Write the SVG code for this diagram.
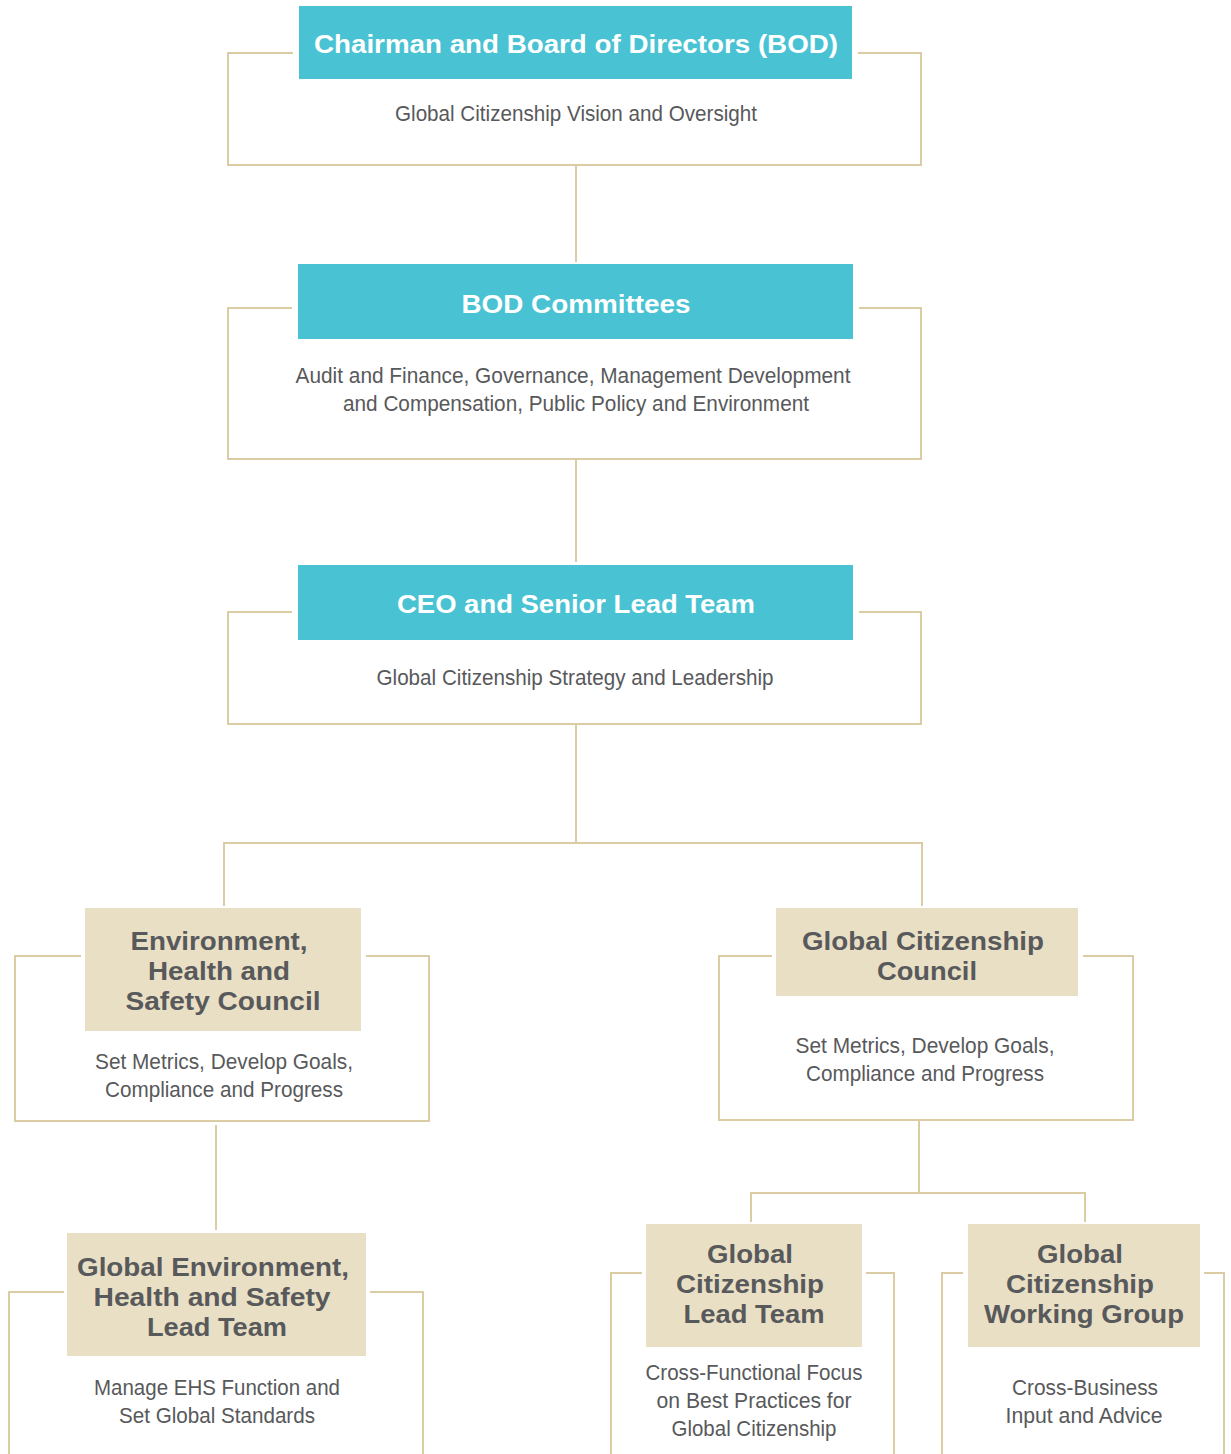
<svg xmlns="http://www.w3.org/2000/svg" width="1231" height="1454" viewBox="0 0 1231 1454">
<style>
.frame{fill:none;stroke:#DCCCA3;stroke-width:2}
.conn{fill:none;stroke:#DCCCA3;stroke-width:2}
.teal{fill:#49C3D3}
.beige{fill:#E9DFC5}
.ht{font-family:"Liberation Sans",Arial,sans-serif;font-weight:bold;font-size:26px;fill:#FFFFFF;text-anchor:middle}
.hb{font-family:"Liberation Sans",Arial,sans-serif;font-weight:bold;font-size:25px;fill:#58595B;text-anchor:middle}
.bd{font-family:"Liberation Sans Narrow","Liberation Sans",Arial,sans-serif;font-size:22px;fill:#58595B;text-anchor:middle}
</style>
<rect width="1231" height="1454" fill="#FFFFFF"/>
<g id="connectors">
<path class="conn" d="M576 165 V262"/>
<path class="conn" d="M576 459 V562"/>
<path class="conn" d="M576 724 V843 M224 906 V843 H922 V906"/>
<path class="conn" d="M216 1125 V1230"/>
<path class="conn" d="M919 1120 V1193 M751 1222 V1193 H1085 V1222"/>
</g>
<g id="node-bod">
<path class="frame" d="M293 53 H228 V165 H921 V53 H858"/>
<rect class="teal" x="299" y="6" width="553" height="73"/>
<text class="ht" x="576" y="53" textLength="524" lengthAdjust="spacingAndGlyphs">Chairman and Board of Directors (BOD)</text>
<text class="bd" x="576" y="121" textLength="362" lengthAdjust="spacingAndGlyphs">Global Citizenship Vision and Oversight</text>
</g>
<g id="node-committees">
<path class="frame" d="M292 308 H228 V459 H921 V308 H859"/>
<rect class="teal" x="298" y="264" width="555" height="75"/>
<text class="ht" x="576" y="313" textLength="229" lengthAdjust="spacingAndGlyphs">BOD Committees</text>
<text class="bd" x="573" y="383" textLength="555" lengthAdjust="spacingAndGlyphs">Audit and Finance, Governance, Management Development</text>
<text class="bd" x="576" y="411" textLength="466" lengthAdjust="spacingAndGlyphs">and Compensation, Public Policy and Environment</text>
</g>
<g id="node-ceo">
<path class="frame" d="M292 612 H228 V724 H921 V612 H859"/>
<rect class="teal" x="298" y="565" width="555" height="75"/>
<text class="ht" x="576" y="613" textLength="358" lengthAdjust="spacingAndGlyphs">CEO and Senior Lead Team</text>
<text class="bd" x="575" y="685" textLength="397" lengthAdjust="spacingAndGlyphs">Global Citizenship Strategy and Leadership</text>
</g>
<g id="node-ehs-council">
<path class="frame" d="M81 956 H15 V1121 H429 V956 H366"/>
<rect class="beige" x="85" y="908" width="276" height="123"/>
<text class="hb" x="219" y="950" textLength="177" lengthAdjust="spacingAndGlyphs">Environment,</text>
<text class="hb" x="219" y="980" textLength="142" lengthAdjust="spacingAndGlyphs">Health and</text>
<text class="hb" x="223" y="1010" textLength="195" lengthAdjust="spacingAndGlyphs">Safety Council</text>
<text class="bd" x="224" y="1069" textLength="258" lengthAdjust="spacingAndGlyphs">Set Metrics, Develop Goals,</text>
<text class="bd" x="224" y="1097" textLength="238" lengthAdjust="spacingAndGlyphs">Compliance and Progress</text>
</g>
<g id="node-gc-council">
<path class="frame" d="M772 956 H719 V1120 H1133 V956 H1083"/>
<rect class="beige" x="776" y="908" width="302" height="88"/>
<text class="hb" x="923" y="950" textLength="242" lengthAdjust="spacingAndGlyphs">Global Citizenship</text>
<text class="hb" x="927" y="980" textLength="100" lengthAdjust="spacingAndGlyphs">Council</text>
<text class="bd" x="925" y="1053" textLength="259" lengthAdjust="spacingAndGlyphs">Set Metrics, Develop Goals,</text>
<text class="bd" x="925" y="1081" textLength="238" lengthAdjust="spacingAndGlyphs">Compliance and Progress</text>
</g>
<g id="node-gehs-lead">
<path class="frame" d="M64 1292 H9 V1454 M423 1454 V1292 H370"/>
<rect class="beige" x="67" y="1233" width="299" height="123"/>
<text class="hb" x="213" y="1276" textLength="272" lengthAdjust="spacingAndGlyphs">Global Environment,</text>
<text class="hb" x="212" y="1306" textLength="237" lengthAdjust="spacingAndGlyphs">Health and Safety</text>
<text class="hb" x="217" y="1336" textLength="140" lengthAdjust="spacingAndGlyphs">Lead Team</text>
<text class="bd" x="217" y="1395" textLength="246" lengthAdjust="spacingAndGlyphs">Manage EHS Function and</text>
<text class="bd" x="217" y="1423" textLength="196" lengthAdjust="spacingAndGlyphs">Set Global Standards</text>
</g>
<g id="node-gc-lead">
<path class="frame" d="M642 1273 H611 V1454 M894 1454 V1273 H866"/>
<rect class="beige" x="646" y="1224" width="216" height="123"/>
<text class="hb" x="750" y="1263" textLength="86" lengthAdjust="spacingAndGlyphs">Global</text>
<text class="hb" x="750" y="1293" textLength="148" lengthAdjust="spacingAndGlyphs">Citizenship</text>
<text class="hb" x="754" y="1323" textLength="141" lengthAdjust="spacingAndGlyphs">Lead Team</text>
<text class="bd" x="754" y="1380" textLength="217" lengthAdjust="spacingAndGlyphs">Cross-Functional Focus</text>
<text class="bd" x="754" y="1408" textLength="195" lengthAdjust="spacingAndGlyphs">on Best Practices for</text>
<text class="bd" x="754" y="1436" textLength="165" lengthAdjust="spacingAndGlyphs">Global Citizenship</text>
</g>
<g id="node-gc-working">
<path class="frame" d="M963 1273 H942 V1454 M1224 1454 V1273 H1204"/>
<rect class="beige" x="968" y="1224" width="232" height="123"/>
<text class="hb" x="1080" y="1263" textLength="86" lengthAdjust="spacingAndGlyphs">Global</text>
<text class="hb" x="1080" y="1293" textLength="148" lengthAdjust="spacingAndGlyphs">Citizenship</text>
<text class="hb" x="1084" y="1323" textLength="200" lengthAdjust="spacingAndGlyphs">Working Group</text>
<text class="bd" x="1085" y="1395" textLength="146" lengthAdjust="spacingAndGlyphs">Cross-Business</text>
<text class="bd" x="1084" y="1423" textLength="157" lengthAdjust="spacingAndGlyphs">Input and Advice</text>
</g>
</svg>
